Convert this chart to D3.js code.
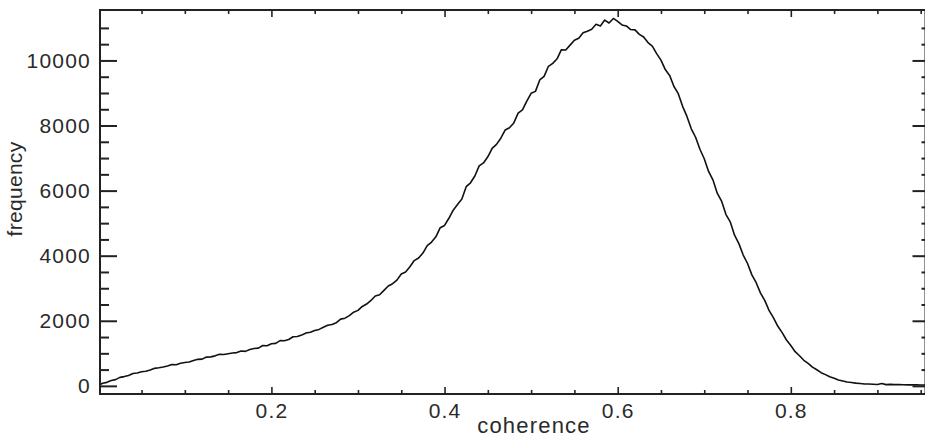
<!DOCTYPE html>
<html>
<head>
<meta charset="utf-8">
<script src="https://cdn.jsdelivr.net/npm/d3@7/dist/d3.min.js"></script>
<style>
  html, body { margin: 0; padding: 0; background: #fff; }
  svg { display: block; }
  .tick text, .label { font-family: "Liberation Sans", Arial, Helvetica, sans-serif; fill: #2a2a2a; }
</style>
</head>
<body>
<svg id="chart" width="925" height="439"></svg>
<script>
// Histogram of coherence values: bins of width 0.005 starting at 0
const binStart = 0.0;
const binWidth = 0.005;
const frequency = [
  10, 82, 108, 164, 192, 262, 285, 321, 382, 396,
  432, 451, 487, 538, 556, 578, 608, 655, 650, 696,
  718, 735, 782, 815, 822, 884, 890, 922, 968, 962,
  985, 1010, 1022, 1072, 1060, 1118, 1150, 1160, 1240, 1232,
  1295, 1305, 1390, 1385, 1425, 1510, 1515, 1560, 1625, 1650,
  1700, 1735, 1800, 1860, 1885, 1940, 2050, 2080, 2160, 2265,
  2320, 2440, 2515, 2625, 2760, 2800, 2935, 3070, 3140, 3250,
  3440, 3500, 3660, 3850, 3930, 4080, 4310, 4420, 4580, 4860,
  4930, 5150, 5400, 5570, 5740, 6120, 6240, 6450, 6760, 6850,
  7040, 7300, 7420, 7610, 7860, 7930, 8080, 8380, 8480, 8750,
  8990, 9050, 9400, 9510, 9820, 9910, 10050, 10330, 10320, 10470,
  10620, 10680, 10850, 10900, 10960, 11110, 11060, 11240, 11150, 11290,
  11200, 11090, 11060, 10950, 10940, 10800, 10720, 10550, 10440, 10210,
  10010, 9720, 9540, 9200, 8980, 8590, 8280, 7900, 7640, 7270,
  6980, 6590, 6330, 5920, 5680, 5270, 5040, 4630, 4370, 4020,
  3760, 3410, 3170, 2850, 2620, 2310, 2090, 1830, 1635, 1410,
  1240, 1050, 925, 785, 690, 575, 495, 405, 345, 278,
  232, 182, 152, 118, 102, 84, 72, 58, 56, 49,
  44, 72, 38, 46, 38, 37, 33, 31, 29, 31,
  28, 28
];

const xMajorTicks = [0.2, 0.4, 0.6, 0.8];
const xMinorTicks = [0.05, 0.1, 0.15, 0.25, 0.3, 0.35, 0.45, 0.5, 0.55, 0.65, 0.7, 0.75, 0.85, 0.9, 0.95];
const yMajorTicks = [0, 2000, 4000, 6000, 8000, 10000];
const yMinorTicks = [500, 1000, 1500, 2500, 3000, 3500, 4500, 5000, 5500, 6500, 7000, 7500, 8500, 9000, 9500, 10500, 11000];

const plot = { left: 100, right: 925.5, top: 10, bottom: 394 };

const x = d3.scaleLinear().domain([0.002, 0.955]).range([plot.left, plot.right - 0.5]);
const y = d3.scaleLinear().domain([-250, 11550]).range([plot.bottom, plot.top]);

const svg = d3.select("#chart");

// clip the curve to the plotting frame
svg.append("defs").append("clipPath").attr("id", "plot-clip")
  .append("rect")
  .attr("x", plot.left).attr("y", plot.top)
  .attr("width", plot.right - plot.left).attr("height", plot.bottom - plot.top);

const points = frequency.map((f, i) => ({ c: binStart + i * binWidth, f }));

svg.append("path")
  .datum(points)
  .attr("clip-path", "url(#plot-clip)")
  .attr("fill", "none")
  .attr("stroke", "#111")
  .attr("stroke-width", 1.6)
  .attr("stroke-linejoin", "round")
  .attr("d", d3.line().x(d => x(d.c)).y(d => y(d.f)));

const axisColor = "#222";
function styleAxis(g, width) {
  g.select(".domain").remove();
  g.selectAll(".tick line").attr("stroke", axisColor).attr("stroke-width", width);
}

// bottom axis: major ticks with labels, minor ticks without
svg.append("g").attr("transform", `translate(0,${plot.bottom})`)
  .call(d3.axisBottom(x).tickValues(xMajorTicks).tickSize(-7).tickPadding(9).tickFormat(d3.format(".1f")))
  .call(g => styleAxis(g, 1.6))
  .call(g => g.selectAll(".tick text").attr("font-size", 21).attr("letter-spacing", "1.2px"));
svg.append("g").attr("transform", `translate(0,${plot.bottom})`)
  .call(d3.axisBottom(x).tickValues(xMinorTicks).tickSize(-4).tickFormat(""))
  .call(g => styleAxis(g, 1.6));

// top axis: ticks only
svg.append("g").attr("transform", `translate(0,${plot.top})`)
  .call(d3.axisTop(x).tickValues(xMajorTicks).tickSize(-7).tickFormat(""))
  .call(g => styleAxis(g, 1.6));
svg.append("g").attr("transform", `translate(0,${plot.top})`)
  .call(d3.axisTop(x).tickValues(xMinorTicks).tickSize(-4).tickFormat(""))
  .call(g => styleAxis(g, 1.6));

// left axis: major ticks with labels, minor ticks without
svg.append("g").attr("transform", `translate(${plot.left},0)`)
  .call(d3.axisLeft(y).tickValues(yMajorTicks).tickSize(-17).tickPadding(9).tickFormat(d3.format("d")))
  .call(g => styleAxis(g, 2))
  .call(g => g.selectAll(".tick text").attr("font-size", 21).attr("letter-spacing", "1.2px"));
svg.append("g").attr("transform", `translate(${plot.left},0)`)
  .call(d3.axisLeft(y).tickValues(yMinorTicks).tickSize(-9).tickFormat(""))
  .call(g => styleAxis(g, 2));

// right axis: ticks only
svg.append("g").attr("transform", `translate(${plot.right},0)`)
  .call(d3.axisRight(y).tickValues(yMajorTicks).tickSize(-13).tickFormat(""))
  .call(g => styleAxis(g, 2));
svg.append("g").attr("transform", `translate(${plot.right},0)`)
  .call(d3.axisRight(y).tickValues(yMinorTicks).tickSize(-4).tickFormat(""))
  .call(g => styleAxis(g, 2));

// frame
svg.append("path")
  .attr("fill", "none")
  .attr("stroke", axisColor)
  .attr("stroke-width", 2)
  .attr("d", `M${plot.left},${plot.top}H${plot.right}V${plot.bottom}H${plot.left}Z`);

// axis titles
svg.append("text").attr("class", "label")
  .attr("x", 534).attr("y", 433)
  .attr("text-anchor", "middle")
  .attr("font-size", 22)
  .attr("letter-spacing", "1.2px")
  .text("coherence");

svg.append("text").attr("class", "label")
  .attr("transform", "translate(22,189) rotate(-90)")
  .attr("text-anchor", "middle")
  .attr("font-size", 21)
  .attr("letter-spacing", "0.3px")
  .text("frequency");
</script>
</body>
</html>
